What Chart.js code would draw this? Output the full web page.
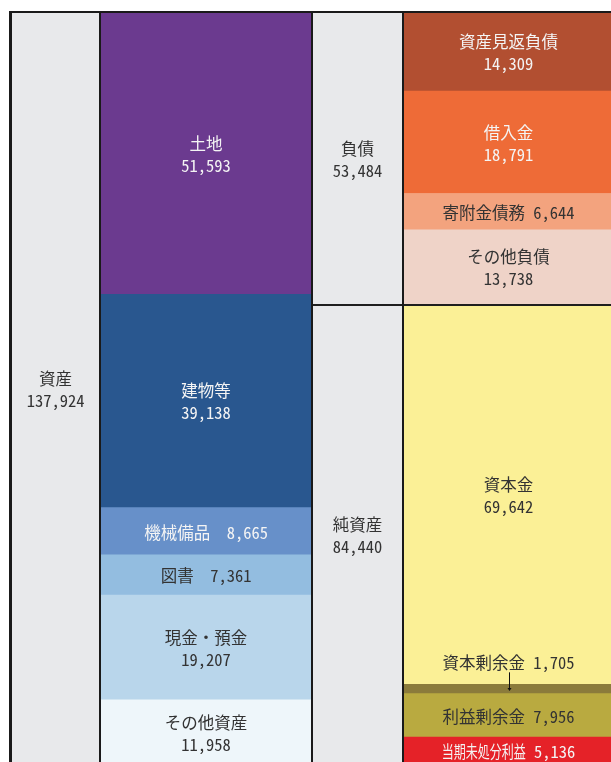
<!DOCTYPE html>
<html><head><meta charset="utf-8">
<script src="https://cdn.jsdelivr.net/npm/chart.js@4"></script>
<style>
html,body{margin:0;padding:0;background:#fff;overflow:hidden;width:611px;height:762px}
#frame{position:absolute;left:9px;top:11px;border-top:2px solid #1a1a1a;border-left:3px solid #1a1a1a;display:flex;}
.col{position:relative;height:752px;}
.col+.col{border-left:2px solid #1a1a1a;}
canvas{display:block}
</style></head><body>
<div id="frame">
<div class="col"><canvas id="c1" width="87" height="752"></canvas></div>
<div class="col"><canvas id="c2" width="210" height="752"></canvas></div>
<div class="col"><canvas id="c3" width="89" height="752"></canvas></div>
<div class="col"><canvas id="c4" width="209" height="752"></canvas></div>
</div>
<script>
// ---- data (top to bottom) ----
const totalCategories = ['資産'];
const totalValues = [137924];
const assetCategories = ['土地', '建物等', '機械備品', '図書', '現金・預金', 'その他資産'];
const assetValues = [51593, 39138, 8665, 7361, 19207, 11958];
const sideCategories = ['負債', '純資産'];
const sideValues = [53484, 84440];
const liabilityCategories = ['資産見返負債', '借入金', '寄附金債務', 'その他負債'];
const liabilityValues = [14309, 18791, 6644, 13738];
const netAssetCategories = ['資本金', '資本剰余金', '利益剰余金', '当期未処分利益'];
const netAssetValues = [69642, 1705, 7956, 5136];

// ---- styles ----
const DARK = '#333333', LIGHT = '#f4f4f4';
const totalStyle = [{bg:'#e8e9eb', fg:DARK, mode:'two'}];
const assetStyle = [
  {bg:'#6b3a8f', fg:LIGHT, mode:'two'},
  {bg:'#29578f', fg:LIGHT, mode:'two'},
  {bg:'#6790c9', fg:LIGHT, mode:'one', sep:'　'},
  {bg:'#93bde0', fg:DARK, mode:'one', sep:'　'},
  {bg:'#b9d6eb', fg:DARK, mode:'two'},
  {bg:'#eef6fa', fg:DARK, mode:'two'}
];
const sideStyle = [{bg:'#e8e9eb', fg:DARK, mode:'two'}, {bg:'#e8e9eb', fg:DARK, mode:'two'}];
const liabilityStyle = [
  {bg:'#b24f31', fg:LIGHT, mode:'two'},
  {bg:'#ee6b37', fg:LIGHT, mode:'two'},
  {bg:'#f3a37e', fg:DARK, mode:'one', sep:' '},
  {bg:'#efd3c8', fg:DARK, mode:'two'}
];
const netAssetStyle = [
  {bg:'#fbf096', fg:DARK, mode:'two'},
  {bg:'#8b7b3b', fg:DARK, mode:'above', sep:' '},
  {bg:'#b9aa40', fg:DARK, mode:'one', sep:' '},
  {bg:'#e52228', fg:LIGHT, mode:'one', sep:' ', labelMax:84}
];

const TOTAL = totalValues[0];
const fmt = v => v.toLocaleString('en-US');
const FONT = '16.5px "Noto Sans Mono CJK JP", "Noto Sans CJK JP", sans-serif';

const labelPlugin = {
  id: 'segLabels',
  afterDatasetsDraw(chart, args, opts) {
    const ctx = chart.ctx;
    if (opts.divider != null) {
      const y = Math.round(chart.scales.y.getPixelForValue(opts.divider));
      ctx.save();
      ctx.fillStyle = '#1f1f1f';
      ctx.fillRect(chart.chartArea.left, y - 1, chart.chartArea.right - chart.chartArea.left, 2);
      ctx.restore();
    }
    chart.data.datasets.forEach((ds, i) => {
      const el = chart.getDatasetMeta(i).data[0];
      if (!el) return;
      const cx = el.x;
      const top = Math.min(el.y, el.base), bot = Math.max(el.y, el.base);
      const cy = (top + bot) / 2;
      const val = fmt(ds.data[0]);
      ctx.save();
      ctx.font = FONT;
      ctx.fillStyle = ds.fg;
      ctx.textAlign = 'center';
      ctx.textBaseline = 'middle';
      if (ds.mode === 'two') {
        ctx.fillText(ds.label, cx, cy - 10);
        ctx.fillText(val, cx, cy + 12);
      } else if (ds.mode === 'one') {
        if (ds.labelMax) {
          const lw = Math.min(ctx.measureText(ds.label).width, ds.labelMax);
          const sw = ctx.measureText(ds.sep).width;
          const vw = ctx.measureText(val).width;
          const x0 = cx - (lw + sw + vw) / 2;
          ctx.textAlign = 'left';
          ctx.fillText(ds.label, x0, cy + 1, ds.labelMax);
          ctx.fillText(val, x0 + lw + sw, cy + 1);
        } else {
          ctx.fillText(ds.label + ds.sep + val, cx, cy + 1);
        }
      } else if (ds.mode === 'above') {
        ctx.fillStyle = DARK;
        ctx.fillText(ds.label + ds.sep + val, cx, top - 22);
        ctx.strokeStyle = '#111';
        ctx.lineWidth = 1;
        ctx.beginPath();
        ctx.moveTo(Math.round(cx) + 0.5, top - 12);
        ctx.lineTo(Math.round(cx) + 0.5, cy + 1);
        ctx.stroke();
        ctx.fillStyle = '#111';
        ctx.beginPath();
        ctx.moveTo(Math.round(cx) - 1.5, cy - 1);
        ctx.lineTo(Math.round(cx) + 2.5, cy - 1);
        ctx.lineTo(Math.round(cx) + 0.5, cy + 2);
        ctx.closePath();
        ctx.fill();
      }
      ctx.restore();
    });
  }
};

function makeChart(id, cats, vals, styles, divider) {
  const datasets = [];
  for (let i = cats.length - 1; i >= 0; i--) {
    datasets.push({
      label: cats[i],
      data: [vals[i]],
      backgroundColor: styles[i].bg,
      borderWidth: 0,
      barPercentage: 1,
      categoryPercentage: 1,
      fg: styles[i].fg,
      mode: styles[i].mode,
      sep: styles[i].sep || ' ',
      labelMax: styles[i].labelMax
    });
  }
  return new Chart(document.getElementById(id), {
    type: 'bar',
    data: { labels: [''], datasets },
    options: {
      responsive: false,
      animation: false,
      layout: { padding: 0 },
      scales: {
        x: { stacked: true, display: false },
        y: { stacked: true, display: false, min: 0, max: TOTAL }
      },
      plugins: {
        legend: { display: false },
        tooltip: { enabled: false },
        segLabels: { divider: divider }
      }
    },
    plugins: [labelPlugin]
  });
}

makeChart('c1', totalCategories, totalValues, totalStyle, null);
makeChart('c2', assetCategories, assetValues, assetStyle, null);
makeChart('c3', sideCategories, sideValues, sideStyle, sideValues[1]);
makeChart('c4', liabilityCategories.concat(netAssetCategories), liabilityValues.concat(netAssetValues), liabilityStyle.concat(netAssetStyle), sideValues[1]);
</script>
</body></html>
